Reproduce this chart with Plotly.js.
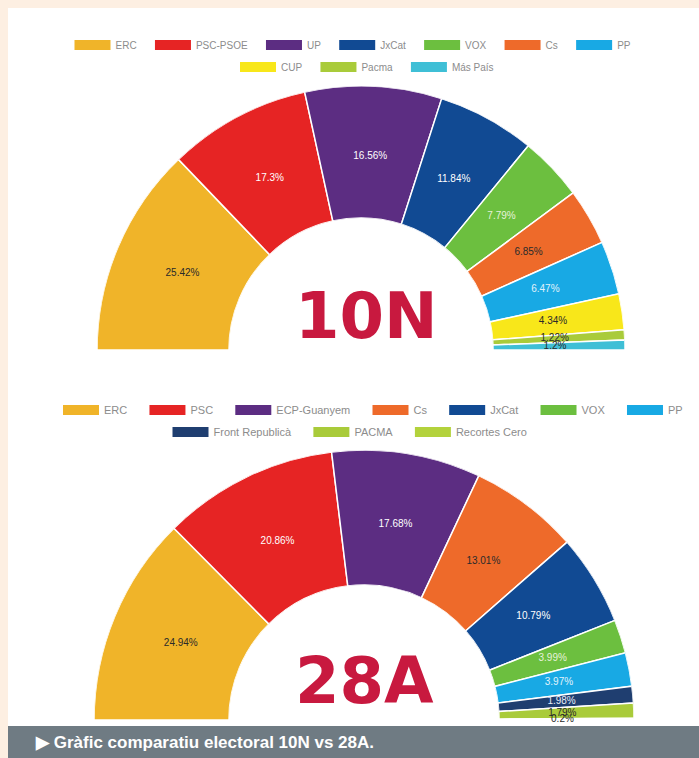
<!DOCTYPE html>
<html><head><meta charset="utf-8">
<script src="https://cdn.plot.ly/plotly-3.0.1.min.js"></script>
<style>
html,body{margin:0;padding:0;overflow:hidden;background:#fdefe2;width:699px;height:758px}
#chart{width:699px;height:758px}
</style>
</head><body><div id="chart"></div>
<script>
// ---- data ----
const parties10N = ['ERC','PSC-PSOE','UP','JxCat','VOX','Cs','PP','CUP','Pacma','Más País'];
const votes10N = [25.42,17.3,16.56,11.84,7.79,6.85,6.47,4.34,1.22,1.2];
const colors10N = ['#f0b429','#e62424','#5c2d82','#114a93','#6cbf3f','#ee6a2a','#18a9e4','#f8e71a','#a9cb3a','#3fbfd6'];
const labelColors10N = ['#2a2a2a','#ffffff','#ffffff','#ffffff','#e6f2da','#2a2a2a','#e0f2fb','#2a2a2a','#2a2a2a','#2a2a2a'];

const parties28A = ['ERC','PSC','ECP-Guanyem','Cs','JxCat','VOX','PP','Front Republicà','PACMA','Recortes Cero'];
const votes28A = [24.94,20.86,17.68,13.01,10.79,3.99,3.97,1.98,1.79,0.2];
const colors28A = ['#f0b429','#e62424','#5c2d82','#ee6a2a','#114a93','#6cbf3f','#18a9e4','#1f3e70','#a9cb3a','#b3d23c'];
const labelColors28A = ['#2a2a2a','#ffffff','#ffffff','#2a2a2a','#ffffff','#e6f2da','#e0f2fb','#e8eef8','#2a2a2a','#2a2a2a'];

const legendRowSplit = 7; // first legend row holds 7 parties
const caption = '▶ Gràfic comparatiu electoral 10N vs 28A.';

// ---- layout helpers ----
const W = 699, H = 758;
const px = x => x / W;
const py = y => 1 - y / H;

function halfDomain(cx, cy, r) {
  return {x: [px(cx - r), px(cx + r)], y: [py(cy), py(cy - r)]};
}

// half-donut drawn as barpolar wedges + scatterpolar labels in one polar subplot
function halfDonut(labels, values, colors, textColors, subplot) {
  const total = values.reduce((a, b) => a + b, 0);
  const widths = values.map(v => v / total * 180);
  const mids = [];
  let acc = 0;
  widths.forEach(w => { mids.push(acc + w / 2); acc += w; });
  return [
    {type: 'barpolar', subplot: subplot, r: values.map(() => 1), theta: mids, width: widths,
     marker: {color: colors, line: {color: '#ffffff', width: 1.5}},
     hoverinfo: 'skip', showlegend: false, name: labels.join(',')},
    {type: 'scatterpolar', subplot: subplot, mode: 'text', r: values.map(() => 0.47), theta: mids,
     text: values.map(v => v + '%'),
     textfont: {family: 'Liberation Sans, Arial, sans-serif', size: 10, color: textColors},
     hoverinfo: 'skip', showlegend: false}
  ];
}

function legendTraces(labels, colors, legA, legB, pad) {
  return labels.map((l, i) => ({
    type: 'scatter', x: [null], y: [null], mode: 'lines',
    name: (i === legendRowSplit - 1 || i === labels.length - 1) ? l : l + pad,
    line: {color: colors[i], width: 10},
    legend: i < legendRowSplit ? legA : legB,
    hoverinfo: 'skip', showlegend: true
  }));
}

const data = []
  .concat(halfDonut(parties10N, votes10N, colors10N, labelColors10N, 'polar'))
  .concat(halfDonut(parties28A, votes28A, colors28A, labelColors28A, 'polar2'))
  .concat(legendTraces(parties10N, colors10N, 'legend', 'legend2', '\u00a0\u00a0\u00a0'))
  .concat(legendTraces(parties28A, colors28A, 'legend3', 'legend4', '\u00a0\u00a0\u00a0\u00a0'));

function polarLayout(dom) {
  return {
    domain: dom, sector: [0, 180], hole: 0.5, bgcolor: 'rgba(0,0,0,0)', bargap: 0,
    radialaxis: {range: [0, 1], visible: false},
    angularaxis: {rotation: 180, direction: 'clockwise', visible: false}
  };
}

const legStyle = {
  orientation: 'h', xanchor: 'center', yanchor: 'middle', bgcolor: 'rgba(0,0,0,0)',
  font: {family: 'Liberation Sans, Arial, sans-serif', size: 10, color: '#8c8c8c'},
  itemwidth: 36, itemclick: false, itemdoubleclick: false
};
const legStyle28 = Object.assign({}, legStyle, {font: {family: 'Liberation Sans, Arial, sans-serif', size: 11, color: '#8c8c8c'}});

const layout = {
  width: W, height: H,
  margin: {l: 0, r: 0, t: 0, b: 0},
  paper_bgcolor: '#fdefe2', plot_bgcolor: 'rgba(0,0,0,0)',
  xaxis: {visible: false}, yaxis: {visible: false},
  polar: polarLayout(halfDomain(361, 350, 264)),
  polar2: polarLayout(halfDomain(364, 720, 270)),
  legend: Object.assign({}, legStyle, {x: px(353), y: py(45)}),
  legend2: Object.assign({}, legStyle, {x: px(367), y: py(67)}),
  legend3: Object.assign({}, legStyle28, {x: px(373), y: py(410)}),
  legend4: Object.assign({}, legStyle28, {x: px(350), y: py(432)}),
  shapes: [
    {type: 'rect', xref: 'paper', yref: 'paper', x0: px(8), x1: px(699), y0: 0, y1: py(8),
     fillcolor: '#ffffff', line: {width: 0}, layer: 'below'},
    {type: 'rect', xref: 'paper', yref: 'paper', x0: px(8), x1: px(699), y0: 0, y1: py(726),
     fillcolor: '#6f7b83', line: {width: 0}, layer: 'above'}
  ],
  annotations: [
    {text: '10N', x: px(366), y: py(316), xref: 'paper', yref: 'paper', showarrow: false,
     xanchor: 'center', yanchor: 'middle', font: {family: 'DejaVu Sans', size: 64, weight: 'bold', color: '#c8193f'}},
    {text: '28A', x: px(364), y: py(681), xref: 'paper', yref: 'paper', showarrow: false,
     xanchor: 'center', yanchor: 'middle', font: {family: 'DejaVu Sans', size: 64, weight: 'bold', color: '#c8193f'}},
    {text: '<b>' + caption + '</b>', x: px(33), y: py(742), xref: 'paper', yref: 'paper', showarrow: false,
     xanchor: 'left', yanchor: 'middle', font: {family: 'Liberation Sans Narrow, Arial Narrow, sans-serif', size: 17, color: '#ffffff'}}
  ]
};

Plotly.newPlot('chart', data, layout, {displayModeBar: false, staticPlot: true});
</script>
</body></html>
